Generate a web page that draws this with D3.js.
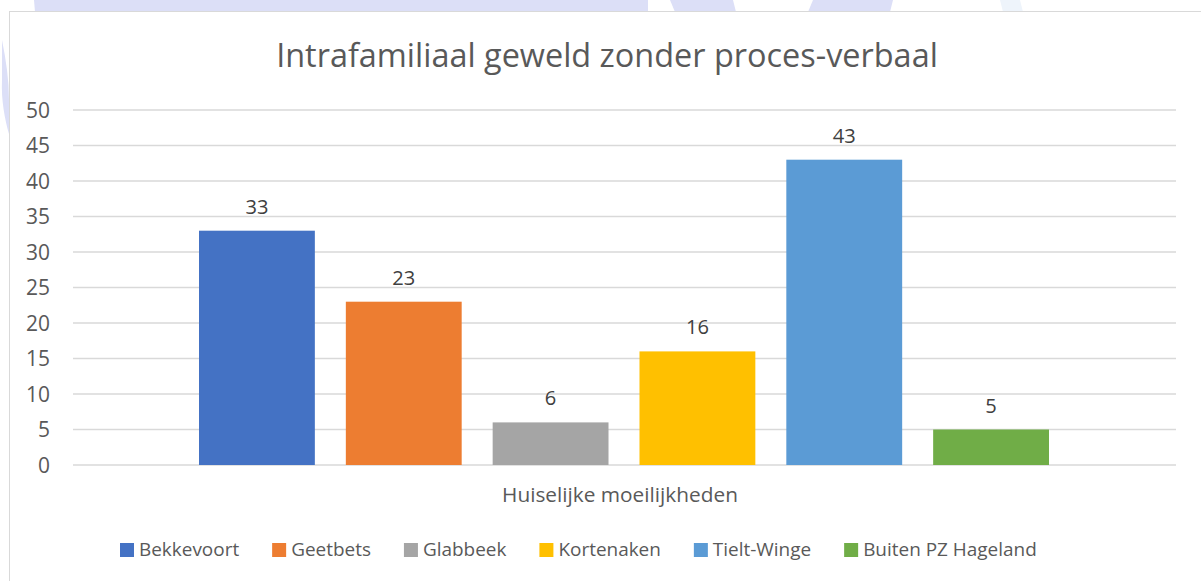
<!DOCTYPE html>
<html>
<head>
<meta charset="utf-8">
<script src="https://cdn.jsdelivr.net/npm/d3@7"></script>
<style>
  body { margin: 0; background: #fff; }
  text { font-family: "Open Sans", Lato, sans-serif; }
</style>
</head>
<body>
<svg id="chart" width="1201" height="581"></svg>
<script>

// Data

var title = "Intrafamiliaal geweld zonder proces-verbaal",
    category = "Huiselijke moeilijkheden",
    series = ["Bekkevoort", "Geetbets", "Glabbeek", "Kortenaken", "Tielt-Winge", "Buiten PZ Hageland"],
    values = [33, 23, 6, 16, 43, 5],
    colors = ["#4472c4", "#ed7d31", "#a5a5a5", "#ffc000", "#5b9bd5", "#70ad47"],
    yTicks = [0, 5, 10, 15, 20, 25, 30, 35, 40, 45, 50];

var svg = d3.select("#chart");

function fitSize(sample, width, base) {
  var t = svg.append("text").style("font-size", base + "px").text(sample);
  var w = t.node().getComputedTextLength();
  t.remove();
  return base * width / w;
}

// legend spacing: swatch 14 + 5 to text, 33 between items, spans x 120..1037
var swW = 14, swGap = 5, itemGap = 33, legL = 120, legR = 1037;

var titleSize = fitSize(title, 662, 30),
    catSize = fitSize(category, 236, 18),
    tickSize = fitSize("50", 24, 18),
    labelSize = fitSize("33", 23, 18),
    legendSize = fitSize(series.join(""),
      (legR - legL) - series.length * (swW + swGap) - (series.length - 1) * itemGap, 18);

// Faint page watermark behind the chart frame

var wm = svg.append("g").attr("fill", "#dcdff7");
wm.append("path").attr("d", "M34,0 L648,0 L648,12 L35,12 Z");
wm.append("path").attr("d", "M670,0 L733,0 L736,12 L675,12 Z");
wm.append("path").attr("d", "M813,0 L893,0 L890,12 L808,12 Z");
wm.append("path").attr("d", "M1000,0 L1020,0 L1023,12 L1003,12 Z").attr("fill", "#eef4fb");
wm.append("path").attr("d", "M2,40 C6,60 9,80 9,100 L9,134 C5,120 1,100 2,80 Z");

// Chart frame

svg.append("rect")
  .attr("x", 9.5).attr("y", 11.5)
  .attr("width", 1300).attr("height", 700)
  .attr("fill", "#fff")
  .attr("stroke", "#d9d9d9")
  .attr("stroke-width", 1);

// Plot area

var plotL = 73, plotR = 1176, plotT = 110, plotB = 465;

var y = d3.scaleLinear().domain([0, 50]).range([plotB, plotT]);

var x = d3.scaleBand()
  .domain(series)
  .range([199, 1049])
  .paddingInner(0.211)
  .paddingOuter(0);

// Gridlines

svg.append("g").selectAll("line")
  .data(yTicks)
  .enter()
  .append("line")
  .attr("x1", plotL).attr("x2", plotR)
  .attr("y1", function(d) { return y(d); })
  .attr("y2", function(d) { return y(d); })
  .attr("stroke", "#d9d9d9")
  .attr("stroke-width", 1.5);

// Y axis labels

svg.append("g").selectAll("text")
  .data(yTicks)
  .enter()
  .append("text")
  .attr("x", 50)
  .attr("y", function(d) { return y(d); })
  .attr("dy", ".36em")
  .style("text-anchor", "end")
  .style("font-size", tickSize + "px")
  .style("fill", "#595959")
  .text(function(d) { return d; });

// Bars

svg.append("g").selectAll("rect")
  .data(values)
  .enter()
  .append("rect")
  .attr("x", function(d, i) { return x(series[i]); })
  .attr("y", function(d) { return y(d); })
  .attr("width", x.bandwidth())
  .attr("height", function(d) { return y(0) - y(d); })
  .style("fill", function(d, i) { return colors[i]; });

// Data labels

svg.append("g").selectAll("text")
  .data(values)
  .enter()
  .append("text")
  .attr("x", function(d, i) { return x(series[i]) + x.bandwidth() / 2; })
  .attr("y", function(d) { return y(d) - 17; })
  .style("text-anchor", "middle")
  .style("font-size", labelSize + "px")
  .style("fill", "#404040")
  .text(function(d) { return d; });

// Category label

svg.append("text")
  .attr("x", 620)
  .attr("y", 502)
  .style("text-anchor", "middle")
  .style("font-size", catSize + "px")
  .style("fill", "#595959")
  .text(category);

// Title

svg.append("text")
  .attr("x", 607)
  .attr("y", 67)
  .style("text-anchor", "middle")
  .style("font-size", titleSize + "px")
  .style("fill", "#595959")
  .text(title);

// Legend, laid out from measured text widths

var legend = svg.append("g");
var items = legend.selectAll(".legend")
  .data(series)
  .enter()
  .append("g")
  .attr("class", "legend");

items.append("rect")
  .attr("x", 0).attr("y", 543)
  .attr("width", swW).attr("height", swW)
  .style("fill", function(d, i) { return colors[i]; });

items.append("text")
  .attr("x", swW + swGap)
  .attr("y", 556)
  .style("font-size", legendSize + "px")
  .style("fill", "#595959")
  .text(function(d) { return d; });

var offs = [], pos = legL;
items.each(function() {
  offs.push(pos);
  pos += swW + swGap + d3.select(this).select("text").node().getComputedTextLength() + itemGap;
});
items.attr("transform", function(d, i) { return "translate(" + offs[i] + ",0)"; });

</script>
</body>
</html>
